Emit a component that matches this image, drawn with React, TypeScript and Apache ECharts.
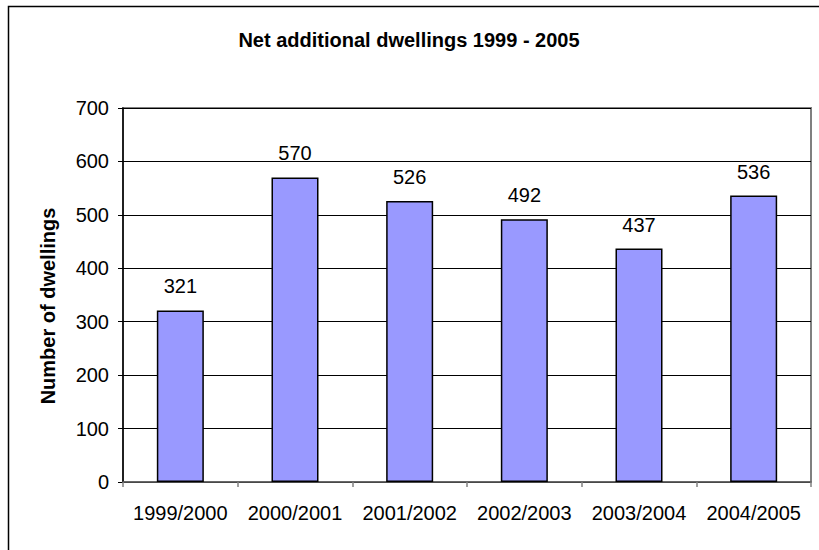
import React, { useEffect, useRef } from "react";
import * as echarts from "echarts";

const categories = ["1999/2000", "2000/2001", "2001/2002", "2002/2003", "2003/2004", "2004/2005"];
const dwellings = [321, 570, 526, 492, 437, 536];
const titleText = "Net additional dwellings 1999 - 2005";
const yAxisName = "Number of dwellings";

const FONT = "'Liberation Sans', Arial, sans-serif";

export default function App() {
  const ref = useRef<HTMLDivElement>(null);
  useEffect(() => {
    if (!ref.current) return;
    const chart = echarts.init(ref.current, null, { renderer: "svg" });
    chart.setOption({
      animation: false,
      backgroundColor: "#ffffff",
      title: {
        text: titleText,
        left: 404,
        textAlign: "center",
        top: 25,
        textStyle: { fontFamily: FONT, fontSize: 20, fontWeight: "bold", color: "#000" },
      },
      graphic: [
        {
          type: "rect",
          shape: { x: 8.5, y: 6.5, width: 900, height: 900 },
          style: { fill: "none", stroke: "#000", lineWidth: 1.5 },
          silent: true,
        },
      ],
      grid: {
        left: 123,
        right: 8,
        top: 108,
        bottom: 68,
        show: true,
        borderColor: "#808080",
        borderWidth: 2,
        backgroundColor: "#ffffff",
      },
      xAxis: {
        type: "category",
        data: categories,
        axisLine: { lineStyle: { color: "#606060", width: 1.5 } },
        axisTick: { show: true, interval: 0, length: 5, lineStyle: { color: "#808080", width: 1.5 } },
        axisLabel: { interval: 0, fontFamily: FONT, fontSize: 20, color: "#000", margin: 21 },
      },
      yAxis: {
        type: "value",
        min: 0,
        max: 700,
        interval: 100,
        name: yAxisName,
        nameLocation: "middle",
        nameGap: 65,
        nameTextStyle: {
          fontFamily: FONT,
          fontSize: 20,
          fontWeight: "bold",
          color: "#000",
          padding: [0, 22, 0, 0],
        },
        axisLine: { show: true, lineStyle: { color: "#000", width: 1.5 } },
        axisTick: { show: true, length: 5, lineStyle: { color: "#000" } },
        axisLabel: { fontFamily: FONT, fontSize: 20, color: "#000", margin: 14 },
        splitLine: { show: true, lineStyle: { color: "#000", width: 1 } },
      },
      series: [
        {
          type: "bar",
          data: dwellings,
          barWidth: "41%",
          itemStyle: { color: "#9999ff", borderColor: "#000", borderWidth: 1.5 },
          label: {
            show: true,
            position: "top",
            distance: 14,
            fontFamily: FONT,
            fontSize: 20,
            color: "#000",
          },
        },
      ],
    });
    return () => chart.dispose();
  }, []);
  return <div ref={ref} style={{ width: 819, height: 550, position: "absolute", left: 0, top: 0 }} />;
}
